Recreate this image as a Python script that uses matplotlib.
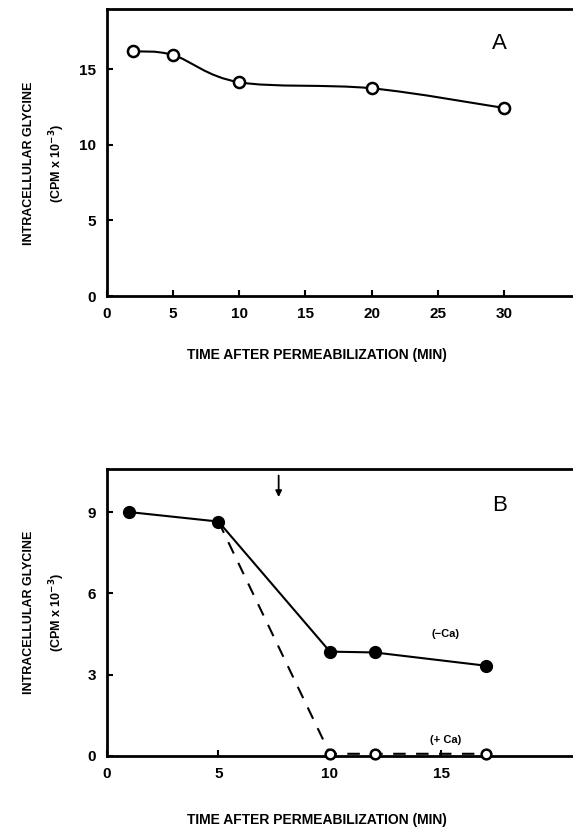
import matplotlib.pyplot as plt
from matplotlib.path import Path
from matplotlib.patches import PathPatch

# panel A: open circles, smooth curve
time_a = [2, 5, 10, 20, 30]
gly_a = [16.2, 15.95, 14.15, 13.75, 12.45]

# panel B: -Ca (filled) and +Ca (open)
time_b_minus = [1, 5, 10, 12, 17]
gly_b_minus = [9.0, 8.65, 3.85, 3.82, 3.33]
time_b_plus = [5, 10, 12, 17]
gly_b_plus = [8.65, 0.08, 0.08, 0.08]

xticks_a = [0, 5, 10, 15, 20, 25, 30]
yticks_a = [0, 5, 10, 15]
xticks_b = [0, 5, 10, 15]
yticks_b = [0, 3, 6, 9]

plt.rcParams["font.family"] = ["Liberation Sans", "DejaVu Sans"]
plt.rcParams["font.weight"] = "bold"

XLABEL = "TIME AFTER PERMEABILIZATION (MIN)"
YLABEL = "INTRACELLULAR GLYCINE\n(CPM x 10$^{\\mathbf{-3}}$)"


def smooth_path(xs, ys):
    """catmull-rom style bezier through the points"""
    verts = [(xs[0], ys[0])]
    codes = [Path.MOVETO]
    n = len(xs)
    for i in range(n - 1):
        x0, y0 = (xs[i - 1], ys[i - 1]) if i > 0 else (xs[i], ys[i])
        x1, y1 = xs[i], ys[i]
        x2, y2 = xs[i + 1], ys[i + 1]
        x3, y3 = (xs[i + 2], ys[i + 2]) if i + 2 < n else (x2, y2)
        c1 = (x1 + (x2 - x0) / 6, y1 + (y2 - y0) / 6)
        c2 = (x2 - (x3 - x1) / 6, y2 - (y3 - y1) / 6)
        verts += [c1, c2, (x2, y2)]
        codes += [Path.CURVE4] * 3
    return Path(verts, codes)


def style(ax, xticks, yticks):
    for s in ["left", "bottom", "top", "right"]:
        ax.spines[s].set_linewidth(2)
    ax.set_xticks(xticks)
    ax.set_yticks(yticks)
    ax.tick_params(direction="in", length=4, width=1.5, labelsize=11)
    ax.tick_params(axis="x", pad=8)
    ax.tick_params(axis="y", pad=8)
    for lab in ax.get_xticklabels() + ax.get_yticklabels():
        lab.set_fontweight("bold")


fig = plt.figure(figsize=(5.73, 8.31), dpi=100)

# ---- panel A
ax1 = fig.add_axes([0.1867, 0.6438, 0.831, 0.3454])
ax1.set_xlim(0, 36)
ax1.set_ylim(0, 19)
ax1.add_patch(PathPatch(smooth_path(time_a, gly_a), fill=False,
                        lw=1.5, color="black", zorder=2))
ax1.plot(time_a, gly_a, "o", ms=8, mfc="white", mec="black", mew=1.8,
         zorder=3)
ax1.text(29.7, 16.7, "A", fontsize=16, fontweight="normal", ha="center",
         va="center")
style(ax1, xticks_a, yticks_a)
fig.text(0.553, 0.573, XLABEL, ha="center", va="center", fontsize=10)
fig.text(0.078, 0.804, YLABEL, ha="center", va="center", rotation=90,
         fontsize=9, linespacing=1.9)

# ---- panel B
ax2 = fig.add_axes([0.1867, 0.0903, 0.856, 0.345])
ax2.set_xlim(0, 22)
ax2.set_ylim(0, 10.58)
ax2.plot(time_b_plus, gly_b_plus, "--", color="black", lw=1.5,
         dashes=(6, 5), zorder=2)
ax2.plot(time_b_minus, gly_b_minus, "-", color="black", lw=1.5, zorder=2)
ax2.plot(time_b_minus, gly_b_minus, "o", ms=8.5, color="black", zorder=3)
ax2.plot(time_b_plus[1:], gly_b_plus[1:], "o", ms=7, mfc="white",
         mec="black", mew=1.8, zorder=3, clip_on=False)
ax2.annotate("", xy=(7.7, 9.45), xytext=(7.7, 10.45),
             arrowprops=dict(arrowstyle="-|>", color="black", lw=1.3,
                             mutation_scale=9))
ax2.text(17.6, 9.25, "B", fontsize=16, fontweight="normal", ha="center",
         va="center")
ax2.text(15.2, 4.5, "(\u2212Ca)", fontsize=8, ha="center", va="center")
ax2.text(15.2, 0.6, "(+ Ca)", fontsize=8, ha="center", va="center")
style(ax2, xticks_b, yticks_b)
fig.text(0.553, 0.013, XLABEL, ha="center", va="center", fontsize=10)
fig.text(0.078, 0.2635, YLABEL, ha="center", va="center", rotation=90,
         fontsize=9, linespacing=1.9)

fig.savefig("out.png", dpi=100)
